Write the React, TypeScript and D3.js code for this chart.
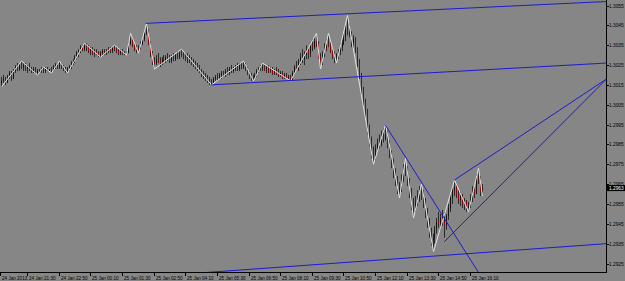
import React from "react";
import * as d3 from "d3";

const W = 625;
const H = 281;
const PLOT_R = 606;
const PLOT_B = 272;

const firstOpen = 1.3016;
const highs = [
  1.3019,1.3020,1.3019,1.3020,1.3022,1.3022,1.3023,1.3025,1.3026,1.3026,1.3027,
  1.3026,1.3026,1.3025,1.3026,1.3024,1.3024,1.3024,1.3023,
  1.3023,1.3024,1.3024,
  1.3024,1.3024,1.3023,1.3024,
  1.3025,1.3026,1.3026,1.3027,
  1.3026,1.3025,1.3024,1.3024,
  1.3025,1.3027,1.3028,1.3030,1.3032,1.3033,1.3035,1.3035,1.3036,
  1.3036,1.3035,1.3034,1.3034,1.3033,1.3033,1.3032,1.3032,
  1.3033,1.3033,1.3033,1.3034,1.3034,1.3034,1.3035,
  1.3034,1.3033,1.3033,1.3033,1.3032,1.3032,
  1.3037,1.3041,
  1.3039,1.3036,1.3035,1.3035,
  1.3037,1.3039,1.3043,1.3046,
  1.3043,1.3037,1.3032,1.3029,
  1.3030,1.3031,1.3029,1.3029,1.3030,1.3030,1.3031,1.3030,1.3030,1.3031,1.3031,1.3032,1.3032,1.3033,
  1.3032,1.3031,1.3031,1.3030,1.3029,1.3028,1.3027,1.3026,1.3025,1.3023,1.3022,1.3021,1.3020,1.3019,1.3018,
  1.3019,1.3020,1.3021,1.3021,1.3022,1.3022,1.3023,1.3024,1.3024,1.3025,1.3024,1.3025,1.3026,1.3026,1.3026,1.3027,
  1.3026,1.3024,1.3022,1.3021,1.3020,
  1.3021,1.3023,1.3024,1.3025,1.3026,
  1.3025,1.3025,1.3025,1.3024,1.3024,1.3023,1.3024,1.3023,1.3022,1.3022,1.3021,1.3021,1.3020,1.3020,
  1.3022,1.3025,1.3027,1.3028,1.3031,1.3033,1.3032,1.3035,1.3034,1.3036,1.3038,1.3039,1.3041,
  1.3037,1.3031,
  1.3032,1.3036,1.3038,1.3041,
  1.3037,1.3034,1.3032,1.3031,
  1.3033,1.3036,1.3038,1.3041,1.3045,1.3050,
  1.3046,1.3042,1.3040,1.3039,1.3034,1.3028,1.3021,1.3014,1.3008,1.3003,1.2995,1.2989,1.2984,
  1.2985,1.2988,1.2990,1.2992,1.2993,1.2995,
  1.2992,1.2987,1.2982,1.2978,1.2973,1.2969,1.2966,
  1.2970,1.2975,1.2978,
  1.2974,1.2968,1.2963,1.2958,
  1.2959,1.2962,1.2964,1.2965,
  1.2962,1.2958,1.2953,1.2948,1.2943,1.2940,
  1.2944,1.2948,1.2951,1.2950,1.2952,1.2951,1.2950,1.2955,1.2960,1.2964,1.2967,
  1.2965,1.2962,1.2961,1.2960,1.2958,1.2957,1.2956,
  1.2960,1.2964,1.2965,1.2970,1.2973,
  1.2969,1.2965,
];
const lows = [
  1.3014,1.3016,1.3015,1.3016,1.3018,1.3017,1.3018,1.3021,1.3022,1.3022,1.3023,
  1.3022,1.3022,1.3021,1.3022,1.3021,1.3021,1.3021,1.3020,
  1.3021,1.3021,1.3021,
  1.3021,1.3022,1.3022,1.3021,
  1.3022,1.3023,1.3023,1.3023,
  1.3023,1.3022,1.3021,1.3021,
  1.3022,1.3023,1.3025,1.3026,1.3028,1.3029,1.3031,1.3032,1.3032,
  1.3032,1.3031,1.3030,1.3030,1.3029,1.3030,1.3029,1.3029,
  1.3030,1.3030,1.3030,1.3031,1.3031,1.3031,1.3032,
  1.3031,1.3030,1.3030,1.3030,1.3030,1.3030,
  1.3031,1.3035,
  1.3034,1.3032,1.3031,1.3031,
  1.3033,1.3035,1.3037,1.3040,
  1.3035,1.3029,1.3025,1.3023,
  1.3025,1.3026,1.3024,1.3025,1.3026,1.3026,1.3027,1.3026,1.3026,1.3027,1.3027,1.3028,1.3028,1.3029,
  1.3028,1.3027,1.3026,1.3026,1.3025,1.3024,1.3023,1.3022,1.3021,1.3019,1.3018,1.3017,1.3016,1.3015,1.3015,
  1.3016,1.3017,1.3017,1.3018,1.3018,1.3019,1.3019,1.3020,1.3020,1.3021,1.3021,1.3022,1.3022,1.3022,1.3023,1.3023,
  1.3022,1.3020,1.3018,1.3017,1.3017,
  1.3018,1.3019,1.3021,1.3022,1.3022,
  1.3022,1.3021,1.3021,1.3021,1.3020,1.3020,1.3020,1.3019,1.3019,1.3018,1.3018,1.3018,1.3017,1.3017,
  1.3017,1.3020,1.3022,1.3022,1.3025,1.3026,1.3025,1.3028,1.3028,1.3029,1.3032,1.3033,1.3034,
  1.3028,1.3023,
  1.3025,1.3029,1.3032,1.3034,
  1.3031,1.3028,1.3026,1.3026,
  1.3028,1.3030,1.3032,1.3035,1.3037,1.3040,
  1.3039,1.3034,1.3033,1.3031,1.3024,1.3018,1.3010,1.3004,1.2998,1.2990,1.2984,1.2978,1.2975,
  1.2977,1.2981,1.2983,1.2984,1.2986,1.2987,
  1.2983,1.2978,1.2973,1.2968,1.2964,1.2960,1.2958,
  1.2961,1.2966,1.2969,
  1.2964,1.2958,1.2952,1.2948,
  1.2951,1.2954,1.2956,1.2957,
  1.2953,1.2948,1.2943,1.2938,1.2934,1.2931,
  1.2935,1.2940,1.2943,1.2942,1.2944,1.2938,1.2942,1.2947,1.2951,1.2955,1.2959,
  1.2958,1.2955,1.2954,1.2953,1.2952,1.2951,1.2951,
  1.2953,1.2956,1.2958,1.2960,1.2965,
  1.2959,1.2959,
];
const closes = [
  1.3017,1.3018,1.3016,1.3019,1.3021,1.3018,1.3022,1.3024,1.3023,1.3025,1.3024,
  1.3025,1.3023,1.3024,1.3023,1.3022,1.3023,1.3021,1.3022,
  1.3022,1.3023,1.3022,
  1.3023,1.3022,1.3023,1.3022,
  1.3024,1.3025,1.3024,1.3025,
  1.3024,1.3023,1.3022,1.3023,
  1.3024,1.3026,1.3027,1.3029,1.3031,1.3032,1.3034,1.3033,1.3035,
  1.3034,1.3032,1.3033,1.3031,1.3032,1.3031,1.3030,1.3031,
  1.3032,1.3031,1.3032,1.3033,1.3032,1.3034,1.3033,
  1.3032,1.3031,1.3032,1.3031,1.3031,1.3031,
  1.3036,1.3038,
  1.3035,1.3033,1.3034,1.3033,
  1.3036,1.3038,1.3041,1.3042,
  1.3036,1.3031,1.3027,1.3026,
  1.3028,1.3027,1.3026,1.3028,1.3027,1.3029,1.3028,1.3027,1.3029,1.3028,1.3030,1.3029,1.3031,1.3030,
  1.3029,1.3028,1.3027,1.3028,1.3026,1.3025,1.3025,1.3023,1.3022,1.3021,1.3019,1.3018,1.3017,1.3017,1.3016,
  1.3018,1.3019,1.3018,1.3020,1.3021,1.3020,1.3022,1.3021,1.3023,1.3022,1.3023,1.3024,1.3023,1.3025,1.3024,1.3025,
  1.3023,1.3021,1.3019,1.3019,1.3018,
  1.3020,1.3022,1.3023,1.3024,1.3024,
  1.3023,1.3024,1.3022,1.3023,1.3021,1.3022,1.3021,1.3020,1.3021,1.3019,1.3020,1.3019,1.3019,1.3018,
  1.3021,1.3024,1.3023,1.3027,1.3029,1.3028,1.3030,1.3033,1.3031,1.3035,1.3034,1.3037,1.3036,
  1.3029,1.3027,
  1.3030,1.3034,1.3036,1.3035,
  1.3032,1.3030,1.3029,1.3030,
  1.3032,1.3034,1.3036,1.3039,1.3043,1.3041,
  1.3040,1.3036,1.3038,1.3033,1.3026,1.3020,1.3012,1.3006,1.3001,1.2993,1.2987,1.2982,1.2979,
  1.2983,1.2986,1.2985,1.2989,1.2988,1.2990,
  1.2985,1.2980,1.2976,1.2970,1.2967,1.2962,1.2963,
  1.2968,1.2972,1.2971,
  1.2966,1.2960,1.2955,1.2953,
  1.2956,1.2958,1.2961,1.2959,
  1.2955,1.2950,1.2945,1.2940,1.2937,1.2938,
  1.2942,1.2946,1.2945,1.2948,1.2946,1.2944,1.2949,1.2953,1.2958,1.2962,1.2963,
  1.2960,1.2957,1.2959,1.2955,1.2956,1.2953,1.2954,
  1.2958,1.2962,1.2960,1.2968,1.2967,
  1.2961,1.2963,
];

// ZigZag vertices (bar index, price)
const zigzagBars = [0,10,18,21,25,29,33,42,50,57,63,65,69,73,77,91,106,122,127,132,146,159,161,165,169,175,188,194,201,204,208,212,218,229,236,241,243];
const zigzagPrices = [1.3014,1.3027,1.3020,1.3024,1.3021,1.3027,1.3021,1.3036,1.3029,1.3035,1.3030,1.3041,1.3031,1.3046,1.3023,1.3033,1.3015,1.3027,1.3017,1.3026,1.3017,1.3041,1.3023,1.3041,1.3026,1.3050,1.2975,1.2995,1.2958,1.2978,1.2948,1.2965,1.2931,1.2967,1.2951,1.2973,1.2959];

// Trend lines: [bar0, price0, bar1, price1]
const trendLines: number[][] = [
  [73, 1.3046, 306, 1.3057],
  [106, 1.3015, 306, 1.3026],
  [97, 1.2920, 306, 1.2935],
  [194, 1.2995, 246, 1.2913],
  [229, 1.2967, 306, 1.3018],
  [224, 1.2936, 306, 1.3018],
];

const priceTicks = [1.3055,1.3045,1.3035,1.3025,1.3015,1.3005,1.2995,1.2985,1.2975,1.2965,1.2955,1.2945,1.2935,1.2925];
const lastPrice = 1.2963;

const timeTickBars = [-1,13,29,45,61,77,93,109,125,141,157,173,189,205,221,237];
const timeTickLabels = ["24 Jan 2013","24 Jan 21:30","24 Jan 22:50","25 Jan 00:10","25 Jan 01:30","25 Jan 02:50","25 Jan 04:10","25 Jan 05:30","25 Jan 06:50","25 Jan 08:10","25 Jan 09:30","25 Jan 10:50","25 Jan 12:10","25 Jan 13:30","25 Jan 14:50","25 Jan 16:10"];

const BG = "#868686";
const FONT = "'Liberation Sans', Arial, sans-serif";

export default function App() {
  const x = d3.scaleLinear().domain([0, 1]).range([1.3, 1.3 + 1.978]);
  const y = d3.scaleLinear().domain([1.2925, 1.3055]).range([263.5, 5.5]);

  const bars = closes.map((c, i) => {
    const o = i === 0 ? firstOpen : closes[i - 1];
    return { i, o, c, h: highs[i], l: lows[i] };
  });

  const zz = d3.line<number>()
    .x((_, k) => Math.round(x(zigzagBars[k])) + 0.5)
    .y((p) => y(p));

  return (
    <svg width={W} height={H} style={{ position: "fixed", left: 0, top: 0, background: BG, display: "block" }}>
      <defs>
        <clipPath id="plot">
          <rect x={0} y={0} width={PLOT_R} height={PLOT_B} />
        </clipPath>
      </defs>
      <rect x={0} y={0} width={W} height={H} fill={BG} />
      <g clipPath="url(#plot)">
        {bars.map((b) => {
          const cx = Math.round(x(b.i));
          const top = y(Math.max(b.h, b.o, b.c));
          const bot = y(Math.min(b.l, b.o, b.c));
          const bTop = y(Math.max(b.o, b.c));
          const bBot = y(Math.min(b.o, b.c));
          const bear = b.c < b.o;
          return (
            <g key={b.i}>
              <rect x={cx} y={top} width={1} height={Math.max(1, bot - top)} fill="#2a2a2a" />
              <rect x={cx} y={bTop} width={1} height={Math.max(1, bBot - bTop)} fill={bear ? "#9a0000" : "#111"} />
            </g>
          );
        })}
        <path d={zz(zigzagPrices) || ""} fill="none" stroke="#e4e4e4" strokeWidth={1} />
        {trendLines.map((t, k) => (
          <line key={k} x1={x(t[0])} y1={y(t[1])} x2={x(t[2])} y2={y(t[3])} stroke="#1c1cd0" strokeWidth={1} />
        ))}
      </g>
      {/* frame */}
      <line x1={PLOT_R + 0.5} y1={0} x2={PLOT_R + 0.5} y2={PLOT_B + 1} stroke="#000" strokeWidth={1} />
      <line x1={0} y1={PLOT_B + 0.5} x2={PLOT_R + 1} y2={PLOT_B + 0.5} stroke="#000" strokeWidth={1} />
      {/* price axis */}
      {priceTicks.map((p) => {
        const yy = Math.round(y(p)) + 0.5;
        return (
          <g key={p}>
            <line x1={PLOT_R} y1={yy} x2={PLOT_R + 3} y2={yy} stroke="#000" strokeWidth={1} />
            <text x={609} y={yy + 1.8} fontFamily={FONT} fontSize={4.8} fill="#000">{p.toFixed(4)}</text>
          </g>
        );
      })}
      <rect x={PLOT_R + 1} y={y(lastPrice) - 3} width={W - PLOT_R - 1} height={6} fill="#000" />
      <text x={609} y={y(lastPrice) + 1.8} fontFamily={FONT} fontSize={4.8} fill="#fff">{lastPrice.toFixed(4)}</text>
      {/* time axis */}
      {timeTickBars.map((bi, k) => {
        const xx = Math.max(0.5, Math.round(x(bi)) + 0.5);
        return (
          <g key={k}>
            <line x1={xx} y1={PLOT_B} x2={xx} y2={PLOT_B + 4} stroke="#000" strokeWidth={1} />
            <text x={xx + 1.5} y={280} fontFamily={FONT} fontSize={4.6} fill="#000">{timeTickLabels[k]}</text>
          </g>
        );
      })}
    </svg>
  );
}
